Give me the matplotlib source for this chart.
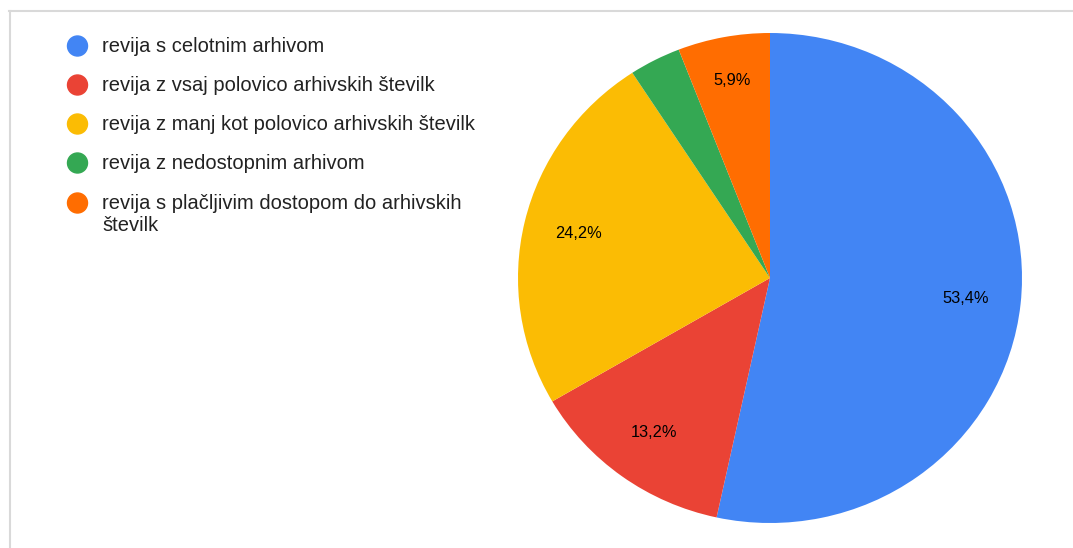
import numpy as np
import matplotlib.pyplot as plt
from matplotlib.lines import Line2D
from matplotlib.patches import Ellipse

# Data
labels = [
    'revija s celotnim arhivom',
    'revija z vsaj polovico arhivskih številk',
    'revija z manj kot polovico arhivskih številk',
    'revija z nedostopnim arhivom',
    'revija s plačljivim dostopom do arhivskih\nštevilk',
]
shares = [53.4, 13.2, 24.2, 3.3, 5.9]
colors = ['#4285F4', '#EA4335', '#FBBC04', '#34A853', '#FF6D01']

plt.rcParams['font.family'] = ['Liberation Sans', 'DejaVu Sans']

W, H = 1073, 548
fig = plt.figure(figsize=(W / 100, H / 100), dpi=100)

# pie area in pixels: x 518..1022, y 33..523
ax = fig.add_axes([518 / W, (H - 523) / H, 504 / W, 490 / H])


def pct(p):
    if p < 5:
        return ''
    return f'{p:.1f}%'.replace('.', ',')


wedges, texts, autotexts = ax.pie(
    shares, colors=colors, startangle=90, counterclock=False,
    autopct=pct, pctdistance=0.78, radius=1,
    wedgeprops=dict(linewidth=0),
    textprops=dict(fontsize=11.8, color='black'))
ax.set_aspect('auto')
ax.set_xlim(-1, 1)
ax.set_ylim(-1, 1)

# the small orange slice has its label a bit further out
w = wedges[4]
mid = np.deg2rad((w.theta1 + w.theta2) / 2)
autotexts[4].set_position((0.82 * np.cos(mid), 0.82 * np.sin(mid)))

# legend drawn by hand, one text per line
row_y = [46, 85, 124, 163, 203]
for lab, col, y in zip(labels, colors, row_y):
    fig.add_artist(Ellipse((77.5 / W, 1 - y / H), 20 / W, 20 / H,
                           transform=fig.transFigure, color=col))
    for i, part in enumerate(lab.split('\n')):
        fig.text(102 / W, 1 - (y + 6 + 22 * i) / H, part, fontsize=14.5,
                 color='#222222', va='baseline', ha='left')

# light frame on the top and left
fig.add_artist(Line2D([9 / W, 1], [1 - 10.5 / H, 1 - 10.5 / H],
                      transform=fig.transFigure, color='#d9d9d9', lw=1.5))
fig.add_artist(Line2D([9.5 / W, 9.5 / W], [0, 1 - 10.5 / H],
                      transform=fig.transFigure, color='#d9d9d9', lw=1.5))

fig.savefig('out.png', dpi=100)
